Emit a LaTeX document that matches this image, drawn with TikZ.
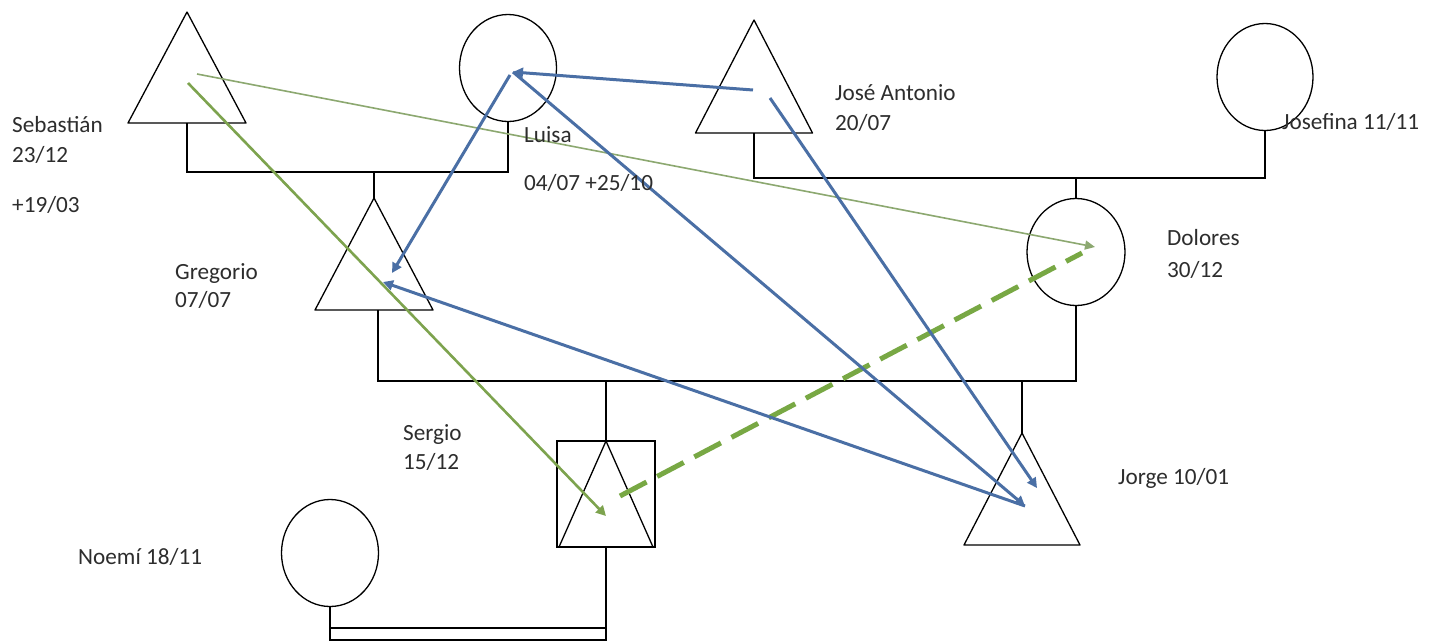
\documentclass[tikz,border=0pt]{standalone}
\usepackage{fontspec}
\setmainfont{Carlito}
\usetikzlibrary{arrows.meta,shapes.geometric,calc}
\definecolor{arrblue}{RGB}{74,111,165}
\definecolor{arrgreen}{RGB}{125,163,78}
\definecolor{thingreen}{RGB}{140,168,112}
\definecolor{dashgreen}{RGB}{120,168,68}
\definecolor{txt}{RGB}{45,45,45}
\begin{document}
\begin{tikzpicture}[x=1pt,y=-1pt,
  kin/.style={draw=black,line width=1.3pt},
  trinode/.style={inner sep=0pt,outer sep=0pt},
  circ/.style={ellipse,kin,inner sep=0pt,outer sep=0pt,minimum width=97pt,minimum height=107pt},
  lbl/.style={anchor=base west,inner sep=0pt,text=txt,font=\fontsize{23.2}{28}\selectfont},
  barrow/.style={draw=arrblue,line width=3pt,-{Triangle[length=10pt,width=10pt]}},
  garrow/.style={draw=arrgreen,line width=2.6pt,-{Triangle[length=10pt,width=10pt]}},
  tgarrow/.style={draw=thingreen,line width=1.6pt,-{Triangle[length=10pt,width=9pt]}},
  gdash/.style={draw=dashgreen,line width=5pt,dash pattern=on 30pt off 12pt}
]
\fill[white] (0,0) rectangle (1432,643);
\useasboundingbox (0,0) rectangle (1432,643);

% persons
\node[trinode,minimum width=118pt,minimum height=111pt] (seb) at (187,67.5) {};
\node[trinode,minimum width=117pt,minimum height=113pt] (jose) at (754,76.5) {};
\node[trinode,minimum width=118pt,minimum height=112pt] (greg) at (374,254) {};
\node[trinode,minimum width=116pt,minimum height=112pt] (jorge) at (1022,489) {};
\node[kin,inner sep=0pt,outer sep=0pt,minimum width=98pt,minimum height=106pt] (serg) at (606,494) {};
\node[trinode,minimum width=94pt,minimum height=106pt] (sergt) at (606,494) {};
\foreach \n in {seb,jose,greg,jorge,sergt}
  \draw[kin,line join=round] (\n.south west) -- (\n.north) -- (\n.south east) -- cycle;
\draw[draw=black,line width=2.6pt] (serg.south west) -- (serg.south east);

\node[circ] (luisa) at (508,68) {};
\node[circ,minimum width=96pt] (josefina) at (1265,77) {};
\node[circ,minimum width=98pt] (dolores) at (1076,252) {};
\node[circ] (noemi) at (330,553) {};

% kinship lines
\draw[kin] (seb.south) -- ++(0,49) -| (luisa.south);
\coordinate (sl) at (374,172);
\draw[kin] (sl) -- (greg.north);
\draw[kin] (jose.south) -- ++(0,45) -| (josefina.south);
\coordinate (jj) at (1076,178);
\draw[kin] (jj) -- (dolores.north);
\coordinate (gb) at (378,310);
\draw[kin] (gb) -- ++(0,71) -| (dolores.south);
\coordinate (gd1) at (606,381);
\draw[kin] (gd1) -- (serg.north);
\coordinate (gd2) at (1022,381);
\draw[kin] (gd2) -- (jorge.north);
\coordinate (nb) at (330,640);
\coordinate (sb) at (606,640);
\coordinate (nt) at (330,628);
\coordinate (st) at (606,628);
\draw[kin] (noemi.south) -- (nb) -- (sb) -- (serg.south);
\draw[kin] (nt) -- (st);

% arrow end points
\coordinate (ja1) at (753,90);
\coordinate (ja2) at (770,98);
\coordinate (lu1) at (513,72);
\coordinate (lu2) at (510,75);
\coordinate (gr1) at (392,273);
\coordinate (gr2) at (383,282);
\coordinate (jo1) at (1037,488);
\coordinate (jo2) at (1025,506);
\coordinate (se1) at (197,74);
\coordinate (se2) at (188,83);
\coordinate (do1) at (1095,247);
\coordinate (do2) at (1082,253);
\coordinate (sg1) at (606,516);
\coordinate (sg2) at (620,496);

% green
\draw[gdash] (sg2) -- (do2);
\draw[tgarrow] (se1) -- (do1);
\draw[garrow] (se2) -- (sg1);
% blue
\draw[barrow] (ja1) -- (lu1);
\draw[barrow] (ja2) -- (jo1);
\draw[barrow] (lu2) -- (gr1);
\draw[barrow] (lu1) -- (jo2);
\draw[barrow] (jo2) -- (gr2);

% labels
\node[lbl] (t1) at (12,132) {Sebastián};
\node[lbl] (t2) at (12,162) {23/12};
\node[lbl] (t3) at (12,212) {+19/03};
\node[lbl] (t4) at (524,142) {Luisa};
\node[lbl] (t5) at (524,190) {04/07 +25/10};
\node[lbl] (t6) at (835,100) {José Antonio};
\node[lbl] (t7) at (835,130) {20/07};
\node[lbl] (t8) at (1282,129) {Josefina 11/11};
\node[lbl] (t9) at (1167,245) {Dolores};
\node[lbl] (t10) at (1167,277) {30/12};
\node[lbl] (t11) at (175,279) {Gregorio};
\node[lbl] (t12) at (175,307) {07/07};
\node[lbl] (t13) at (403,440) {Sergio};
\node[lbl] (t14) at (403,469) {15/12};
\node[lbl] (t15) at (1118,484) {Jorge 10/01};
\node[lbl] (t16) at (78,564) {Noemí 18/11};
\end{tikzpicture}
\end{document}
